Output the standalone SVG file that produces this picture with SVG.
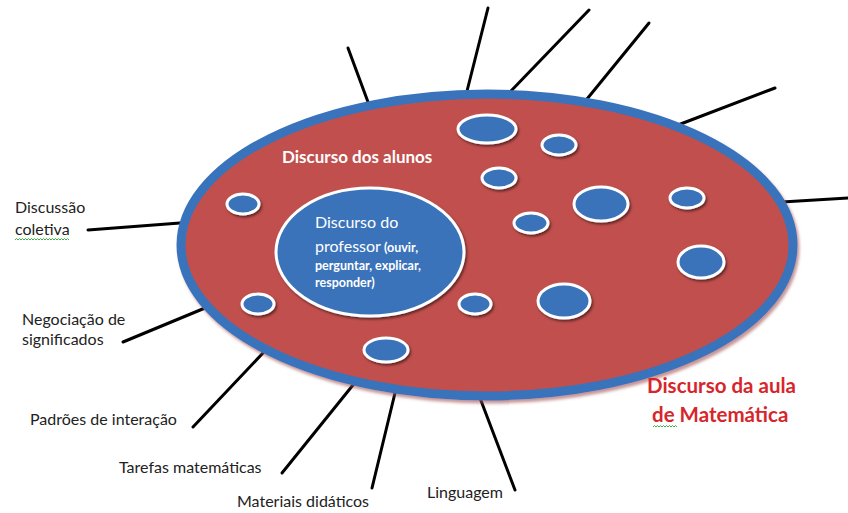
<svg xmlns="http://www.w3.org/2000/svg" width="848" height="513" viewBox="0 0 848 513">
<style>
.lbl{font-family:Lato,"Liberation Sans",sans-serif;font-size:16px;fill:#222}
.wt{font-family:Lato,"Liberation Sans",sans-serif;fill:#fff}
.sm{font-size:12.5px;font-weight:bold}
.red{font-family:Lato,"Liberation Sans",sans-serif;font-size:20.5px;font-weight:bold;fill:#d7262b}
.bub{fill:#3a73ba;stroke:#fff;stroke-width:3;filter:url(#sh)}
.con line{stroke:#000;stroke-width:3;stroke-linecap:round}
.wavy{fill:none;stroke:#3cb043;stroke-width:1}
</style>
<defs>
<filter id="sh" x="-20%" y="-20%" width="150%" height="150%">
<feDropShadow dx="1.5" dy="2" stdDeviation="1.2" flood-color="#000" flood-opacity="0.5"/>
</filter>
<filter id="sh2" x="-5%" y="-5%" width="110%" height="115%">
<feDropShadow dx="2" dy="3" stdDeviation="1.5" flood-color="#a05050" flood-opacity="0.6"/>
</filter>
</defs>
<rect width="848" height="513" fill="#fff"/>
<g id="connectors" class="con">
<line x1="88" y1="230" x2="180" y2="223"/>
<line x1="123" y1="342" x2="205" y2="308"/>
<line x1="193" y1="427" x2="263" y2="353"/>
<line x1="282" y1="473" x2="353" y2="385"/>
<line x1="372" y1="488" x2="395" y2="393"/>
<line x1="515" y1="490" x2="480" y2="398"/>
<line x1="782" y1="202" x2="850" y2="198"/>
<line x1="678" y1="125" x2="775" y2="88"/>
<line x1="587" y1="99" x2="649" y2="23"/>
<line x1="510" y1="92" x2="589" y2="10"/>
<line x1="467" y1="91" x2="488" y2="8"/>
<line x1="368" y1="102" x2="348" y2="48"/>
</g>
<g id="aula">
<ellipse cx="487" cy="245" rx="306" ry="151" fill="#c0504d" stroke="#3873bc" stroke-width="9" filter="url(#sh2)"/>
<text class="red" x="647" y="393">Discurso da aula</text>
<text class="red" x="652" y="422">de Matemática</text>
<path class="wavy" d="M653 427 l1.5 -1.5 1.5 1.5 1.5 -1.5 1.5 1.5 1.5 -1.5 1.5 1.5 1.5 -1.5 1.5 1.5 1.5 -1.5 1.5 1.5 1.5 -1.5 1.5 1.5 1.5 -1.5 1.5 1.5 1.5 -1.5 1.5 1.5"/>
</g>
<g id="alunos">
<text class="wt" x="282" y="163" font-size="17" font-weight="bold">Discurso dos alunos</text>
<ellipse class="bub" cx="487" cy="129" rx="29" ry="14"/>
<ellipse class="bub" cx="559" cy="145" rx="17" ry="10"/>
<ellipse class="bub" cx="499" cy="178" rx="17" ry="10"/>
<ellipse class="bub" cx="601" cy="204" rx="27" ry="17"/>
<ellipse class="bub" cx="687" cy="198" rx="17" ry="10"/>
<ellipse class="bub" cx="531" cy="223" rx="17" ry="10"/>
<ellipse class="bub" cx="701" cy="262" rx="23" ry="16"/>
<ellipse class="bub" cx="564" cy="301" rx="26" ry="17"/>
<ellipse class="bub" cx="475" cy="304" rx="16" ry="10"/>
<ellipse class="bub" cx="386" cy="350" rx="22" ry="12"/>
<ellipse class="bub" cx="258" cy="304" rx="16" ry="10"/>
<ellipse class="bub" cx="243" cy="204" rx="16" ry="10"/>
</g>
<g id="professor">
<ellipse class="bub" cx="370" cy="252" rx="94" ry="64"/>
<text class="wt" x="315" y="228" font-size="16">Discurso do</text>
<text class="wt" x="315" y="252"><tspan font-size="16">professor</tspan><tspan class="sm" dx="3">(ouvir,</tspan></text>
<text class="wt sm" x="315" y="270">perguntar, explicar,</text>
<text class="wt sm" x="315" y="287">responder)</text>
</g>
<g id="discussao">
<text class="lbl" x="15" y="213">Discussão</text>
<text class="lbl" x="15" y="235">coletiva</text>
<path class="wavy" d="M15 240 l1.5 -1.5 1.5 1.5 1.5 -1.5 1.5 1.5 1.5 -1.5 1.5 1.5 1.5 -1.5 1.5 1.5 1.5 -1.5 1.5 1.5 1.5 -1.5 1.5 1.5 1.5 -1.5 1.5 1.5 1.5 -1.5 1.5 1.5 1.5 -1.5 1.5 1.5 1.5 -1.5 1.5 1.5 1.5 -1.5 1.5 1.5 1.5 -1.5 1.5 1.5 1.5 -1.5 1.5 1.5 1.5 -1.5 1.5 1.5 1.5 -1.5 1.5 1.5 1.5 -1.5 1.5 1.5 1.5 -1.5 1.5 1.5 1.5 -1.5 1.5 1.5"/>
</g>
<g id="negociacao">
<text class="lbl" x="22" y="325">Negociação de</text>
<text class="lbl" x="22" y="345">significados</text>
</g>
<g id="padroes"><text class="lbl" x="30" y="425">Padrões de interação</text></g>
<g id="tarefas"><text class="lbl" x="119" y="473">Tarefas matemáticas</text></g>
<g id="materiais"><text class="lbl" x="237" y="507">Materiais didáticos</text></g>
<g id="linguagem"><text class="lbl" x="427" y="498">Linguagem</text></g>
</svg>
